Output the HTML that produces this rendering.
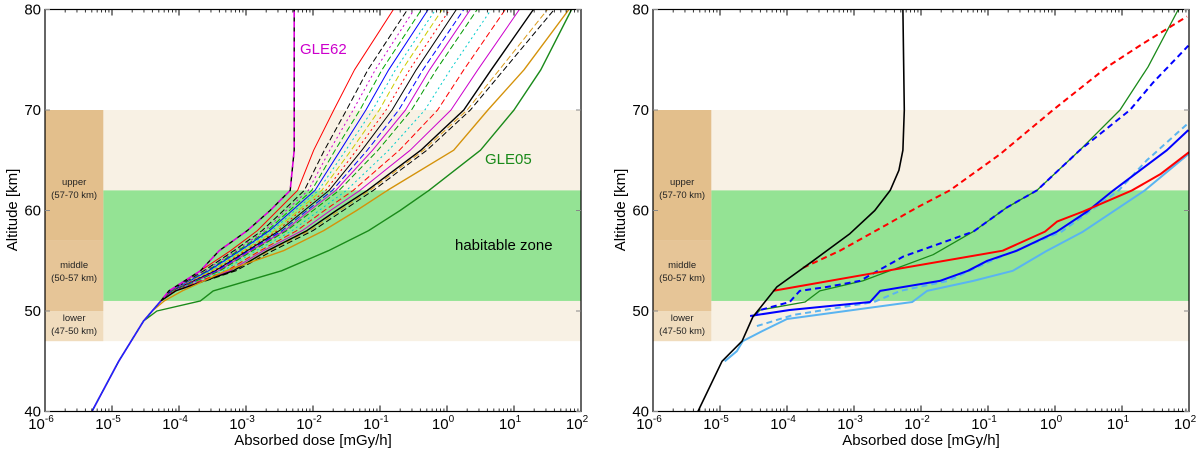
<!DOCTYPE html>
<html><head><meta charset="utf-8"><style>
body{margin:0;background:#fff;}
svg{display:block;font-family:"Liberation Sans",sans-serif;}
</style></head><body>
<svg id="chart" width="1200" height="452" viewBox="0 0 1200 452"></svg>
<script>
// ---- data ----
const xDecades = [-6,-5,-4,-3,-2,-1,0,1,2];
const yTicks = [40,50,60,70,80];
const leftAlt = [40,45,49,50,51,52,54,56,58,60,62,66,70,74,80];
const leftDoseLog = [
 [-5.3,-4.9,-4.53,-4.4,-4.27,-4.15,-3.68,-3.23,-2.83,-2.53,-2.23,-1.99,-1.69,-1.38,-0.8],
 [-5.3,-4.9,-4.53,-4.4,-4.27,-4.13,-3.63,-3.18,-2.76,-2.44,-2.13,-1.83,-1.50,-1.18,-0.59],
 [-5.3,-4.9,-4.53,-4.4,-4.27,-4.13,-3.61,-3.15,-2.72,-2.40,-2.07,-1.75,-1.40,-1.07,-0.49],
 [-5.3,-4.9,-4.53,-4.4,-4.27,-4.12,-3.58,-3.12,-2.68,-2.35,-2.02,-1.67,-1.30,-0.97,-0.38],
 [-5.3,-4.9,-4.53,-4.4,-4.27,-4.12,-3.56,-3.09,-2.65,-2.31,-1.97,-1.59,-1.21,-0.87,-0.28],
 [-5.3,-4.9,-4.53,-4.4,-4.27,-4.12,-3.53,-3.07,-2.61,-2.27,-1.92,-1.51,-1.11,-0.77,-0.17],
 [-5.3,-4.9,-4.53,-4.4,-4.27,-4.11,-3.51,-3.04,-2.57,-2.22,-1.87,-1.43,-1.01,-0.67,-0.07],
 [-5.3,-4.9,-4.53,-4.4,-4.27,-4.11,-3.48,-3.01,-2.53,-2.18,-1.81,-1.35,-0.91,-0.56,0.04],
 [-5.3,-4.9,-4.53,-4.4,-4.27,-4.10,-3.46,-2.98,-2.50,-2.13,-1.76,-1.27,-0.82,-0.46,0.14],
 [-5.3,-4.9,-4.53,-4.4,-4.27,-4.10,-3.44,-2.96,-2.46,-2.09,-1.71,-1.19,-0.72,-0.36,0.25],
 [-5.3,-4.9,-4.53,-4.4,-4.27,-4.09,-3.41,-2.93,-2.42,-2.05,-1.66,-1.11,-0.62,-0.26,0.35],
 [-5.3,-4.9,-4.53,-4.4,-4.27,-4.09,-3.39,-2.90,-2.39,-2.00,-1.61,-1.03,-0.53,-0.16,0.45],
 [-5.3,-4.9,-4.53,-4.4,-4.27,-4.08,-3.34,-2.85,-2.31,-1.91,-1.50,-0.87,-0.33,0.05,0.66],
 [-5.3,-4.9,-4.53,-4.4,-4.27,-4.07,-3.29,-2.79,-2.24,-1.83,-1.40,-0.71,-0.14,0.25,0.87],
 [-5.3,-4.9,-4.53,-4.4,-4.27,-4.06,-3.24,-2.74,-2.16,-1.74,-1.30,-0.55,0.06,0.46,1.08],
 [-5.3,-4.9,-4.53,-4.4,-4.27,-4.06,-3.20,-2.65,-2.05,-1.60,-1.15,-0.35,0.30,0.78,1.50],
 [-5.3,-4.9,-4.53,-4.4,-4.27,-4.05,-3.15,-2.60,-2.00,-1.55,-1.10,-0.30,0.35,0.85,1.60],
 [-5.3,-4.9,-4.53,-4.4,-4.27,-4.05,-3.19,-2.68,-2.09,-1.65,-1.19,-0.39,0.25,0.66,1.29],
 [-5.3,-4.9,-4.53,-4.4,-4.22,-3.95,-3.30,-2.44,-1.84,-1.35,-0.89,0.10,0.61,1.15,1.82],
 [-5.3,-4.9,-4.53,-4.33,-3.68,-3.49,-2.47,-1.77,-1.17,-0.70,-0.27,0.50,1.00,1.40,1.86],
 [-5.3,-4.9,-4.53,-4.4,-4.27,-4.15,-3.68,-3.40,-2.98,-2.64,-2.34,-2.28,-2.28,-2.28,-2.28]
];
const leftColors = ['#f00','#000','#c0c','#0a0','#00f','#0cc','#cc0','#f00','#000','#00f','#c0c','#090','#0cc','#f00','#c0c','#d99a1c','#000','#000','#d4920a','#1a8a1a','#000'];
const leftDash = ['','6,3','2,3','6,3','','2,3','6,3','2,3','','6,3','','6,3','2,3','6,3','','6,3','6,3','','','','6,4'];
// right panel series
const rBlackAlt = [40,45,47,49.4,52.4,55,57.7,60,62,64,66,70,75,80];
const rBlackDose = [-5.33,-4.97,-4.67,-4.51,-4.15,-3.61,-3.06,-2.69,-2.46,-2.33,-2.27,-2.25,-2.26,-2.27];
const rRedDashAlt = [54.3,56,58.6,60.3,62,65.6,70,74.3,76.6,79.3];
const rRedDashDose = [-3.76,-3.21,-2.51,-2.06,-1.57,-0.82,-0.03,0.78,1.31,1.97];
const rGreenAlt = [49.5,50.1,50.9,52,53,55.6,57.9,60.3,62,66,70,74.3,80];
const rGreenDose = [-4.5,-4.40,-3.73,-3.51,-2.87,-1.82,-1.22,-0.72,-0.27,0.37,0.97,1.39,1.84];
const rBlueDashAlt = [49.5,50.1,50.9,52,52.4,53,55.4,57.9,60.3,62,66,70,72.7,76.4];
const rBlueDashDose = [-4.5,-4.40,-3.96,-3.81,-3.40,-2.91,-2.27,-1.22,-0.72,-0.27,0.37,1.12,1.46,1.99];
const rRedAlt = [52,54,56,57.9,58.9,59.9,62,63.6,65.8];
const rRedDose = [-4.21,-2.51,-0.78,-0.15,0.03,0.42,1.15,1.57,2.0];
const rBlueAlt = [49.5,50.1,50.9,52,53,54,55,56,57.9,59.9,62,64,66,68];
const rBlueDose = [-4.55,-3.96,-2.76,-2.61,-1.72,-1.30,-1.01,-0.57,0.03,0.48,0.87,1.27,1.67,1.99];
const rLBDashAlt = [48.5,49.6,50.9,52,53,55,57.9,62,65,68.7];
const rLBDashDose = [-4.45,-3.91,-2.70,-2.31,-1.60,-0.95,0.1,0.95,1.37,1.99];
const rLBAlt = [45,46,47,48,49.2,50.9,52,53,54,56,57.9,62,65.6];
const rLBDose = [-4.93,-4.75,-4.66,-4.37,-4.0,-2.13,-1.91,-1.22,-0.63,-0.12,0.42,1.34,1.99];

// ---- drawing ----
const NS='http://www.w3.org/2000/svg';
const svg=document.getElementById('chart');
function mk(tag,attrs,parent){const e=document.createElementNS(NS,tag);for(const k in attrs)e.setAttribute(k,attrs[k]);(parent||svg).appendChild(e);return e;}
const YT=9.5,YB=411.5;
function ys(a){return YB-(a-40)*(YB-YT)/40;}
function panel(x0,x1,name){
  const g=mk('g',{});
  
  
  const xs=l=>x0+(l+6)*(x1-x0)/8;
  const xb=xs(-5.13);
  let r=mk('rect',{x:x0,y:ys(70),width:x1-x0,height:ys(47)-ys(70),fill:'#f8f1e4'},g);
  
  
  r=mk('rect',{x:xb,y:ys(62),width:x1-xb,height:ys(51)-ys(62),fill:'#94e394'},g);
  
  
  r=mk('rect',{x:x0,y:ys(70),width:xb-x0,height:ys(57)-ys(70),fill:'#e3bf8c'},g);
  
  
  r=mk('rect',{x:x0,y:ys(57),width:xb-x0,height:ys(50)-ys(57),fill:'#e6c597'},g);
  
  
  r=mk('rect',{x:x0,y:ys(50),width:xb-x0,height:ys(47)-ys(50),fill:'#f0dcbd'},g);
  
  
  const labs=[['upper',185,'(57-70 km)',198],['middle',268,'(50-57 km)',281],['lower',321,'(47-50 km)',334]];
  labs.forEach(L=>{
    let t=mk('text',{x:(x0+xb)/2,y:L[1],'font-size':9.5,'text-anchor':'middle',fill:'#222'},g);t.textContent=L[0];
    
    
    t=mk('text',{x:(x0+xb)/2,y:L[3],'font-size':9.5,'text-anchor':'middle',fill:'#222'},g);t.textContent=L[2];
    
    
  });
  return {g,xs};
}
function line(p,alts,vals,color,w,dash,name){
  let d='';
  for(let i=0;i<alts.length;i++){d+=(i?'L':'M')+p.xs(vals[i]).toFixed(1)+','+ys(alts[i]).toFixed(1);}
  const e=mk('path',{d:d,fill:'none',stroke:color,'stroke-width':w,'stroke-dasharray':dash||'none','stroke-linejoin':'round'},p.g);
  
  
  return e;
}
function axes(p,x0,x1){
  const g=p.g;
  const fr=mk('rect',{x:x0,y:YT,width:x1-x0,height:YB-YT,fill:'none',stroke:'#000','stroke-width':1.2},g);
  
  
  xDecades.forEach((dd,i)=>{
    const x=p.xs(dd);
    mk('line',{x1:x,x2:x,y1:YB,y2:YB-6,stroke:'#000'},g);
    mk('line',{x1:x,x2:x,y1:YT,y2:YT+6,stroke:'#000'},g);
    if(i<xDecades.length-1){for(let m=2;m<10;m++){const xm=p.xs(dd+Math.log10(m));
      mk('line',{x1:xm,x2:xm,y1:YB,y2:YB-3,stroke:'#000','stroke-width':0.8},g);
      mk('line',{x1:xm,x2:xm,y1:YT,y2:YT+3,stroke:'#000','stroke-width':0.8},g);}}
    const t=mk('text',{x:x-4,y:429,'font-size':15,'text-anchor':'middle'},g);
    
    
    t.innerHTML='10<tspan dy="-7" font-size="10">'+dd+'</tspan>';
  });
  yTicks.forEach(v=>{
    const y=ys(v);
    mk('line',{x1:x0,x2:x0+5,y1:y,y2:y,stroke:'#888'},g);
    mk('line',{x1:x1,x2:x1-5,y1:y,y2:y,stroke:'#888'},g);
    const t=mk('text',{x:x0-4,y:y+5,'font-size':15,'text-anchor':'end'},g);
    
    
    t.textContent=v;
  });
  let t=mk('text',{x:(x0+x1)/2,y:445,'font-size':15,'text-anchor':'middle'},g);
  
  
  t.textContent='Absorbed dose [mGy/h]';
  t=mk('text',{x:0,y:0,'font-size':15,'text-anchor':'middle',transform:'translate('+(x0-28)+',210) rotate(-90)'},g);
  
  
  t.textContent='Altitude [km]';
}
// left panel
const L=panel(45,581,'left-panel');
leftDoseLog.forEach((vals,i)=>{
  const w=(i>=17)?1.4:1;
  line(L,leftAlt,vals,leftColors[i],w,leftDash[i],'gle-curve-'+i);
});
line(L,leftAlt,leftDoseLog[20],'#d0d',1.6,'6,4','gle62-magenta-curve').setAttribute('stroke-dashoffset','5');
line(L,leftAlt.slice(0,5),leftDoseLog[0].slice(0,5),'#22f',1.6,'','base-curve');
let tt=mk('text',{x:300,y:54,'font-size':15,fill:'#c0c'},L.g);tt.textContent='GLE62';


tt=mk('text',{x:485,y:164,'font-size':15,fill:'#1a8a1a'},L.g);tt.textContent='GLE05';


tt=mk('text',{x:455,y:250,'font-size':15,fill:'#000'},L.g);tt.textContent='habitable zone';


axes(L,45,581);
// right panel
const R=panel(653,1189,'right-panel');
line(R,rLBAlt,rLBDose,'#5ab4f0',2,'','lightblue-solid-curve');
line(R,rLBDashAlt,rLBDashDose,'#5ab4f0',2,'6,4','lightblue-dashed-curve');
line(R,rBlueAlt,rBlueDose,'#00f',2,'','blue-solid-curve');
line(R,rGreenAlt,rGreenDose,'#1a8a1a',1.3,'','green-curve');
line(R,rBlueDashAlt,rBlueDashDose,'#00f',2,'6,4','blue-dashed-curve');
line(R,rRedAlt,rRedDose,'#f00',2,'','red-solid-curve');
line(R,rRedDashAlt,rRedDashDose,'#f00',2,'6,4','red-dashed-curve');
line(R,rBlackAlt,rBlackDose,'#000',1.6,'','black-curve');
axes(R,653,1189);
</script>
</body></html>
